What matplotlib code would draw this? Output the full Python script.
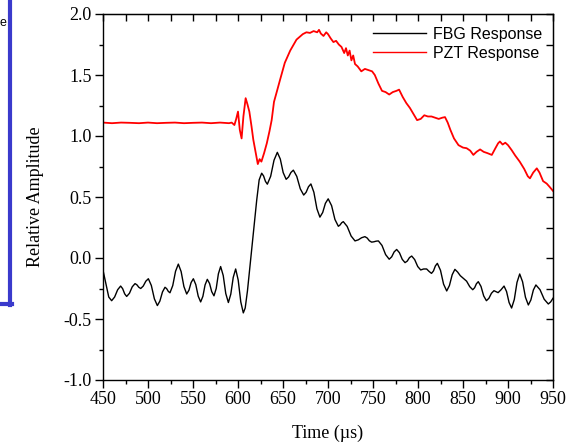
import matplotlib
matplotlib.use("Agg")
import matplotlib.pyplot as plt
from matplotlib.lines import Line2D
from matplotlib.ticker import MultipleLocator, NullFormatter

# ---------------- data ----------------
fbg_t = [450, 453.2, 456.4, 459.6, 462.9, 466.3, 469.6, 471.8, 474.1, 476.3, 479.4, 482.5,
         485.6, 487.7, 489.8, 491.9, 494.7, 497.6, 500.4, 503.7, 507.1, 510.4, 513.2,
         516.1, 518.9, 520.7, 522.6, 524.4, 527.5, 530.6, 533.7, 536.8, 539.9, 543,
         545.5, 547.9, 550.4, 553.1, 555.8, 558.5, 561, 563.4, 565.9, 568.4, 570.8,
         573.3, 575.8, 578.2, 580.7, 583.6, 586.4, 589.3, 592, 594.7, 597.4, 600.2,
         603.1, 605.9, 608, 610.5, 613.3, 617, 620.8, 623.5, 626.3, 628.4, 630.5, 632.6,
         636.3, 640, 643.7, 647, 650.2, 653.5, 656.2, 658.8, 661.5, 665.3, 669.2, 673,
         675.7, 678.3, 681, 684.3, 687.7, 691, 694.1, 697.1, 700.2, 704, 707.7, 711.5,
         713.3, 715.2, 717, 721.3, 725.7, 730, 733.7, 737.3, 741, 743.5, 746, 748.5, 751,
         753.5, 756, 760, 764, 768, 770.8, 773.5, 776.3, 779.4, 782.5, 785.6, 788.1,
         790.5, 793, 796.3, 799.7, 803, 806.3, 809.6, 812.3, 815, 817.2, 819.3, 821.5,
         825, 828.4, 831.9, 834.9, 838, 841, 844, 847, 850.4, 854, 857.5, 860.8, 862.9,
         864.9, 867, 870, 873, 876, 878.8, 881.6, 884.4, 886.7, 889, 892.3, 895.6, 898.4,
         901.2, 904, 907, 910, 913, 916.2, 919.4, 922.6, 925.4, 928.2, 931, 935.6, 940.2,
         944.8, 947.4, 950]
fbg_v = [-0.10, -0.21, -0.32, -0.35, -0.32, -0.26, -0.23, -0.251, -0.294, -0.315, -0.289,
         -0.236, -0.21, -0.22, -0.24, -0.25, -0.23, -0.19, -0.17, -0.225, -0.335, -0.39,
         -0.353, -0.278, -0.24, -0.251, -0.274, -0.285, -0.226, -0.109, -0.05, -0.111,
         -0.234, -0.295, -0.264, -0.201, -0.17, -0.218, -0.313, -0.36, -0.314, -0.221,
         -0.175, -0.209, -0.276, -0.31, -0.25, -0.13, -0.07, -0.144, -0.291, -0.365,
         -0.296, -0.159, -0.09, -0.18, -0.36, -0.45, -0.41, -0.27, -0.07, 0.20, 0.475,
         0.64, 0.695, 0.673, 0.628, 0.605, 0.67, 0.801, 0.866, 0.811, 0.70, 0.645, 0.664,
         0.701, 0.72, 0.669, 0.567, 0.516, 0.539, 0.584, 0.607, 0.539, 0.403, 0.335,
         0.373, 0.448, 0.485, 0.429, 0.316, 0.26, 0.27, 0.289, 0.298, 0.259, 0.180, 0.14,
         0.149, 0.166, 0.175, 0.164, 0.141, 0.13, 0.133, 0.138, 0.14, 0.103, 0.028, -0.01,
         0.01, 0.05, 0.07, 0.043, -0.011, -0.038, -0.025, 0.003, 0.016, -0.013, -0.07,
         -0.098, -0.09, -0.09, -0.11, -0.126, -0.106, -0.065, -0.044, -0.101, -0.214,
         -0.27, -0.226, -0.137, -0.093, -0.115, -0.145, -0.167, -0.19, -0.235, -0.26,
         -0.244, -0.211, -0.194, -0.233, -0.311, -0.35, -0.33, -0.289, -0.268, -0.276,
         -0.284, -0.26, -0.23, -0.275, -0.365, -0.41, -0.34, -0.20, -0.131, -0.195,
         -0.322, -0.385, -0.344, -0.262, -0.221, -0.26, -0.338, -0.377, -0.36, -0.33]

pzt_t = [450, 460, 470, 480, 490, 500, 510, 520, 530, 540, 550, 560, 570, 580, 590, 593,
         596, 598, 600, 602, 604, 606, 608.5, 610.5, 612.6, 615, 617, 620, 622, 624, 626,
         629, 632, 635, 637.4, 640, 643, 646.7, 652, 658, 665, 672, 676, 680, 684, 688,
         690, 692, 695, 698, 700, 703, 706, 709, 712, 715, 718, 720, 722, 724, 726, 728,
         730, 733, 737, 741, 745, 749, 752, 756, 760, 764, 768, 772, 776, 779, 783, 787,
         791, 795, 799, 803, 807, 811, 815, 819, 823, 827, 830, 833, 836, 840, 845, 850,
         854, 858, 861.5, 865, 869, 873, 877, 882, 886, 889, 891, 894, 897, 900, 904, 908,
         913, 918, 922, 924.4, 928, 932, 935, 939, 943, 946, 950]
pzt_v = [1.11, 1.105, 1.11, 1.108, 1.105, 1.11, 1.105, 1.108, 1.11, 1.105, 1.108, 1.11,
         1.105, 1.11, 1.105, 1.11, 1.09, 1.14, 1.20, 1.05, 0.98, 1.16, 1.31, 1.26, 1.20,
         1.08, 0.97, 0.85, 0.77, 0.81, 0.79, 0.86, 0.94, 1.04, 1.13, 1.28, 1.36, 1.46,
         1.60, 1.70, 1.79, 1.835, 1.85, 1.845, 1.86, 1.85, 1.87, 1.84, 1.82, 1.85, 1.835,
         1.80, 1.77, 1.78, 1.75, 1.73, 1.68, 1.72, 1.66, 1.70, 1.62, 1.66, 1.59, 1.57,
         1.53, 1.55, 1.54, 1.53, 1.50, 1.43, 1.37, 1.36, 1.34, 1.36, 1.37, 1.38, 1.32,
         1.27, 1.23, 1.18, 1.13, 1.14, 1.17, 1.16, 1.16, 1.15, 1.14, 1.15, 1.155, 1.11,
         1.05, 0.98, 0.925, 0.905, 0.90, 0.88, 0.845, 0.87, 0.89, 0.87, 0.86, 0.845, 0.90,
         0.94, 0.955, 0.93, 0.945, 0.925, 0.885, 0.84, 0.79, 0.73, 0.67, 0.653, 0.70,
         0.735, 0.70, 0.63, 0.61, 0.585, 0.55]

x_ticks = [450, 500, 550, 600, 650, 700, 750, 800, 850, 900, 950]
y_ticks = [-1.0, -0.5, 0.0, 0.5, 1.0, 1.5, 2.0]
y_labels = ["-1.0", "-0.5", "0.0", "0.5", "1.0", "1.5", "2.0"]

# ---------------- figure ----------------
W, H = 574, 445
fig = plt.figure(figsize=(W / 100, H / 100), dpi=100)
ax = fig.add_axes([103 / W, 1 - 380 / H, 450 / W, 366 / H])

ax.plot(fbg_t, fbg_v, color="black", lw=1.0, label="FBG Response")
ax.plot(pzt_t, pzt_v, color="#ff0000", lw=1.3, label="PZT Response")

ax.set_xlim(450, 950)
ax.set_ylim(-1.0, 2.0)

serif = ["Liberation Serif", "DejaVu Serif"]
ax.set_xticks(x_ticks)
ax.set_xticklabels([str(v) for v in x_ticks], family=serif, fontsize=13)
ax.set_yticks(y_ticks)
ax.set_yticklabels(y_labels, family=serif, fontsize=13)
ax.xaxis.set_minor_locator(MultipleLocator(25))
ax.yaxis.set_minor_locator(MultipleLocator(0.25))
ax.tick_params(which="major", direction="out", length=6, width=1, pad=2, colors="black")
ax.tick_params(which="minor", direction="out", length=3, width=1)

# inward ticks on top and right
top = ax.secondary_xaxis("top")
top.set_xticks(x_ticks)
top.xaxis.set_minor_locator(MultipleLocator(25))
top.tick_params(which="both", direction="in", length=5, width=1, labeltop=False)
top.xaxis.set_major_formatter(NullFormatter())
right = ax.secondary_yaxis("right")
right.set_yticks(y_ticks)
right.yaxis.set_minor_locator(MultipleLocator(0.25))
right.tick_params(which="both", direction="in", length=5, width=1, labelright=False)
right.yaxis.set_major_formatter(NullFormatter())

for s in ax.spines.values():
    s.set_linewidth(1.0)

ax.set_xlabel("Time (\u00b5s)", family=serif, fontsize=13, labelpad=12)
ax.set_ylabel("Relative Amplitude", family=serif, fontsize=13, labelpad=14)

leg = ax.legend(loc="upper right", frameon=False,
                prop={"family": ["Liberation Sans", "DejaVu Sans"], "size": 11.5},
                handlelength=3.3, handletextpad=0.4, labelspacing=0.25,
                borderaxespad=0.3, bbox_to_anchor=(1.0, 0.995))
for h in leg.get_lines():
    h.set_linewidth(1.0)

# decorative blue frame fragment and text at the left edge
fig.add_artist(Line2D([9.5 / W, 9.5 / W], [1.0, 1 - 305 / H], color="#3a3acc", lw=3.0,
                      transform=fig.transFigure))
fig.add_artist(Line2D([0, 11.5 / W], [1 - 303.5 / H, 1 - 303.5 / H], color="#3a3acc",
                      lw=3.0, transform=fig.transFigure))
fig.text(6 / W, 1 - 23 / H, "e", ha="right", va="center", fontsize=9,
         family=["Liberation Sans", "DejaVu Sans"])

fig.savefig("out.png", dpi=100)
